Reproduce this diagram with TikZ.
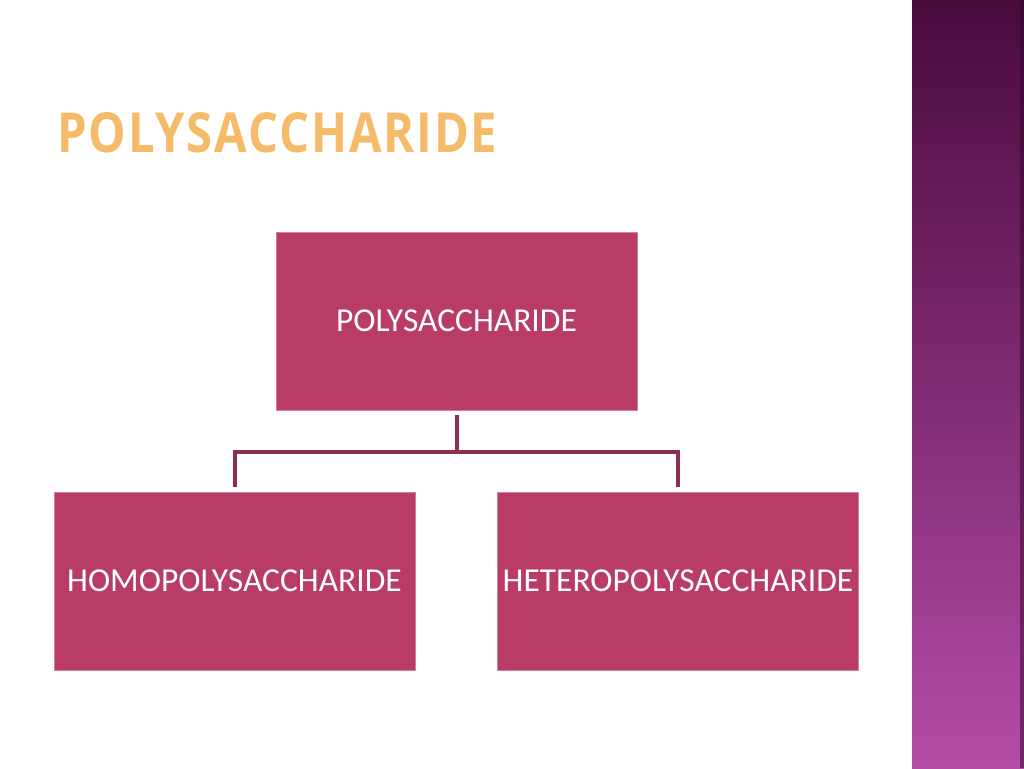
\documentclass[tikz,border=0pt]{standalone}
\usepackage{fontspec}
\newfontfamily\boxfont{Carlito}
\newfontfamily\titlefont[LetterSpace=4]{Open Sans}
\definecolor{boxpink}{HTML}{B83C65}
\definecolor{boxedge}{HTML}{D77C9E}
\definecolor{linkred}{HTML}{8C2D52}
\definecolor{titleorange}{HTML}{F5BB68}
\definecolor{bartop}{HTML}{4A0A3C}
\definecolor{barbottom}{HTML}{B44CA8}
\tikzset{
  box/.style={rectangle,fill=boxpink,draw=boxedge,line width=0.8pt,
    minimum width=361,minimum height=178,inner sep=0,text=white,
    font=\boxfont\fontsize{33.5}{40}\selectfont},
  link/.style={draw=linkred,line width=4pt,line join=miter}
}
\begin{document}
\begin{tikzpicture}[x=1pt,y=-1pt]
				\useasboundingbox (0,0) rectangle (1024,768);
				\fill[white] (0,0) rectangle (1024,768);
				\shade[top color=bartop,bottom color=barbottom] (912,0) rectangle (1024,768);
				\fill[bartop!70!black,opacity=0.5] (1020,0) rectangle (1024,768);
				\node[anchor=base west,inner sep=0,text=titleorange] (title) at (57,152) {\resizebox{440pt}{40pt}{\titlefont\bfseries POLYSACCHARIDE}};
				\node[box] (poly) at (456.5,321) {POLYSACCHARIDE};
				\node[box] (homo) at (234.5,581) {HOMOPOLYSACCHARIDE};
				\node[box] (hetero) at (678,581) {HETEROPOLYSACCHARIDE};
				\coordinate (hub) at (456.5,451.5);
				\draw[link] ([yshift=-5pt]poly.south) -- (poly.south |- hub);
				\draw[link] ([yshift=5pt]homo.north) -- (homo.north |- hub) -- (hetero.north |- hub) -- ([yshift=5pt]hetero.north);
\end{tikzpicture}
\end{document}
